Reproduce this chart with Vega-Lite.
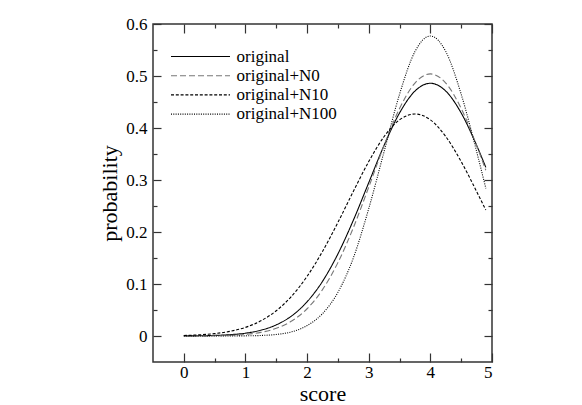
{
  "$schema": "https://vega.github.io/schema/vega-lite/v6.json",
  "width": 339,
  "height": 338,
  "autosize": {"type": "none"},
  "padding": {"left": 153, "top": 24, "right": 90, "bottom": 43},
  "background": "white",
  "config": {
    "font": "Liberation Serif",
    "view": {"stroke": "#333", "strokeWidth": 1.5},
    "axis": {"domain": false, "grid": false, "labelFont": "Liberation Serif", "labelFontSize": 17, "labelColor": "black", "titleFont": "Liberation Serif", "titleFontSize": 22, "titleFontWeight": "normal", "titleColor": "black", "tickColor": "#333", "tickWidth": 1.2},
    "legend": {"labelFont": "Liberation Serif"}
  },
  "data": {"values": [
    {"s":0,"p":0.0002,"series":"original"},{"s":0.25,"p":0.0004,"series":"original"},{"s":0.5,"p":0.0011,"series":"original"},{"s":0.75,"p":0.0025,"series":"original"},{"s":1,"p":0.0054,"series":"original"},{"s":1.25,"p":0.0111,"series":"original"},{"s":1.5,"p":0.0214,"series":"original"},{"s":1.75,"p":0.0387,"series":"original"},{"s":2,"p":0.0658,"series":"original"},{"s":2.25,"p":0.1051,"series":"original"},{"s":2.5,"p":0.1578,"series":"original"},{"s":2.75,"p":0.2225,"series":"original"},{"s":3,"p":0.2948,"series":"original"},{"s":3.25,"p":0.3668,"series":"original"},{"s":3.5,"p":0.4289,"series":"original"},{"s":3.75,"p":0.471,"series":"original"},{"s":4,"p":0.486,"series":"original"},{"s":4.25,"p":0.471,"series":"original"},{"s":4.5,"p":0.4289,"series":"original"},{"s":4.75,"p":0.3668,"series":"original"},{"s":4.9,"p":0.3242,"series":"original"},
    {"s":0,"p":0.0001,"series":"original+N0"},{"s":0.25,"p":0.0002,"series":"original+N0"},{"s":0.5,"p":0.0005,"series":"original+N0"},{"s":0.75,"p":0.0013,"series":"original+N0"},{"s":1,"p":0.0031,"series":"original+N0"},{"s":1.25,"p":0.007,"series":"original+N0"},{"s":1.5,"p":0.0147,"series":"original+N0"},{"s":1.75,"p":0.0287,"series":"original+N0"},{"s":2,"p":0.0524,"series":"original+N0"},{"s":2.25,"p":0.0891,"series":"original+N0"},{"s":2.5,"p":0.1411,"series":"original+N0"},{"s":2.75,"p":0.2082,"series":"original+N0"},{"s":3,"p":0.2862,"series":"original+N0"},{"s":3.25,"p":0.3666,"series":"original+N0"},{"s":3.5,"p":0.4375,"series":"original+N0"},{"s":3.75,"p":0.4865,"series":"original+N0"},{"s":4,"p":0.504,"series":"original+N0"},{"s":4.25,"p":0.4865,"series":"original+N0"},{"s":4.5,"p":0.4375,"series":"original+N0"},{"s":4.75,"p":0.3666,"series":"original+N0"},{"s":4.9,"p":0.3187,"series":"original+N0"},
    {"s":0,"p":0.001,"series":"original+N10"},{"s":0.25,"p":0.0022,"series":"original+N10"},{"s":0.5,"p":0.0046,"series":"original+N10"},{"s":0.75,"p":0.009,"series":"original+N10"},{"s":1,"p":0.0166,"series":"original+N10"},{"s":1.25,"p":0.0292,"series":"original+N10"},{"s":1.5,"p":0.0486,"series":"original+N10"},{"s":1.75,"p":0.0767,"series":"original+N10"},{"s":2,"p":0.1147,"series":"original+N10"},{"s":2.25,"p":0.1626,"series":"original+N10"},{"s":2.5,"p":0.2184,"series":"original+N10"},{"s":2.75,"p":0.278,"series":"original+N10"},{"s":3,"p":0.3354,"series":"original+N10"},{"s":3.25,"p":0.3836,"series":"original+N10"},{"s":3.5,"p":0.4157,"series":"original+N10"},{"s":3.75,"p":0.427,"series":"original+N10"},{"s":4,"p":0.4157,"series":"original+N10"},{"s":4.25,"p":0.3836,"series":"original+N10"},{"s":4.5,"p":0.3354,"series":"original+N10"},{"s":4.75,"p":0.278,"series":"original+N10"},{"s":4.9,"p":0.2421,"series":"original+N10"},
    {"s":0,"p":0,"series":"original+N100"},{"s":0.25,"p":0,"series":"original+N100"},{"s":0.5,"p":0,"series":"original+N100"},{"s":0.75,"p":0.0001,"series":"original+N100"},{"s":1,"p":0.0003,"series":"original+N100"},{"s":1.25,"p":0.001,"series":"original+N100"},{"s":1.5,"p":0.003,"series":"original+N100"},{"s":1.75,"p":0.008,"series":"original+N100"},{"s":2,"p":0.02,"series":"original+N100"},{"s":2.25,"p":0.043,"series":"original+N100"},{"s":2.5,"p":0.084,"series":"original+N100"},{"s":2.75,"p":0.15,"series":"original+N100"},{"s":3,"p":0.245,"series":"original+N100"},{"s":3.25,"p":0.355,"series":"original+N100"},{"s":3.5,"p":0.465,"series":"original+N100"},{"s":3.75,"p":0.547,"series":"original+N100"},{"s":4,"p":0.577,"series":"original+N100"},{"s":4.25,"p":0.547,"series":"original+N100"},{"s":4.5,"p":0.465,"series":"original+N100"},{"s":4.75,"p":0.355,"series":"original+N100"},{"s":4.9,"p":0.284,"series":"original+N100"}
  ]},
  "layer": [
    {
      "mark": {"type": "line", "interpolate": "monotone", "strokeWidth": 1.1},
      "encoding": {
        "x": {"field": "s", "type": "quantitative", "scale": {"domain": [-0.5, 5], "nice": false, "zero": false},
          "axis": {"orient": "bottom", "title": "score", "values": [0,0.5,1,1.5,2,2.5,3,3.5,4,4.5,5],
            "tickSize": {"condition": {"test": "datum.value % 1 === 0", "value": -9}, "value": -4},
            "labelFont": "Liberation Serif", "labelFontSize": 17,
            "labelExpr": "datum.value % 1 === 0 ? '' + datum.value : ''", "labelPadding": 11, "titlePadding": 3}},
        "y": {"field": "p", "type": "quantitative", "scale": {"domain": [-0.05, 0.6], "nice": false, "zero": false},
          "axis": {"orient": "left", "title": "probability", "values": [0,0.05,0.1,0.15,0.2,0.25,0.3,0.35,0.4,0.45,0.5,0.55,0.6],
            "tickSize": {"condition": {"test": "round(datum.value * 100) % 10 === 0", "value": -8}, "value": -4},
            "labelFont": "Liberation Serif", "labelFontSize": 17,
            "labelExpr": "round(datum.value * 100) % 10 === 0 ? '' + datum.value : ''", "labelPadding": 14, "titlePadding": 4}},
        "strokeDash": {"field": "series", "type": "nominal",
          "scale": {"domain": ["original","original+N0","original+N10","original+N100"], "range": [[1,0],[6,3],[3,1.8],[1,1.3]]},
          "legend": {"title": null, "orient": "none", "legendX": 39, "legendY": 24, "padding": 0, "symbolType": "M-5.9,0H5.9", "symbolSize": 100, "symbolStrokeWidth": 1.1, "labelFont": "Liberation Serif", "labelFontSize": 17, "labelColor": "black", "labelOffset": 27.5, "rowPadding": 1.2}},
        "stroke": {"field": "series", "type": "nominal",
          "scale": {"domain": ["original","original+N0","original+N10","original+N100"], "range": ["#000","#777","#000","#000"]},
          "legend": {"title": null, "orient": "none", "legendX": 39, "legendY": 24, "padding": 0, "symbolType": "M-5.9,0H5.9", "symbolSize": 100, "symbolStrokeWidth": 1.1, "labelFont": "Liberation Serif", "labelFontSize": 17, "labelColor": "black", "labelOffset": 27.5, "rowPadding": 1.2}}
      }
    },
    {
      "mark": {"type": "line", "opacity": 0},
      "encoding": {
        "detail": {"field": "series"},
        "x": {"field": "s", "type": "quantitative",
          "axis": {"orient": "top", "title": null, "values": [0,0.5,1,1.5,2,2.5,3,3.5,4,4.5,5], "labels": false,
            "tickSize": {"condition": {"test": "datum.value % 1 === 0", "value": -9}, "value": -4}}},
        "y": {"field": "p", "type": "quantitative",
          "axis": {"orient": "right", "title": null, "values": [0,0.05,0.1,0.15,0.2,0.25,0.3,0.35,0.4,0.45,0.5,0.55,0.6], "labels": false,
            "tickSize": {"condition": {"test": "round(datum.value * 100) % 10 === 0", "value": -8}, "value": -4}}}
      }
    }
  ],
  "resolve": {"axis": {"x": "independent", "y": "independent"}}
}
